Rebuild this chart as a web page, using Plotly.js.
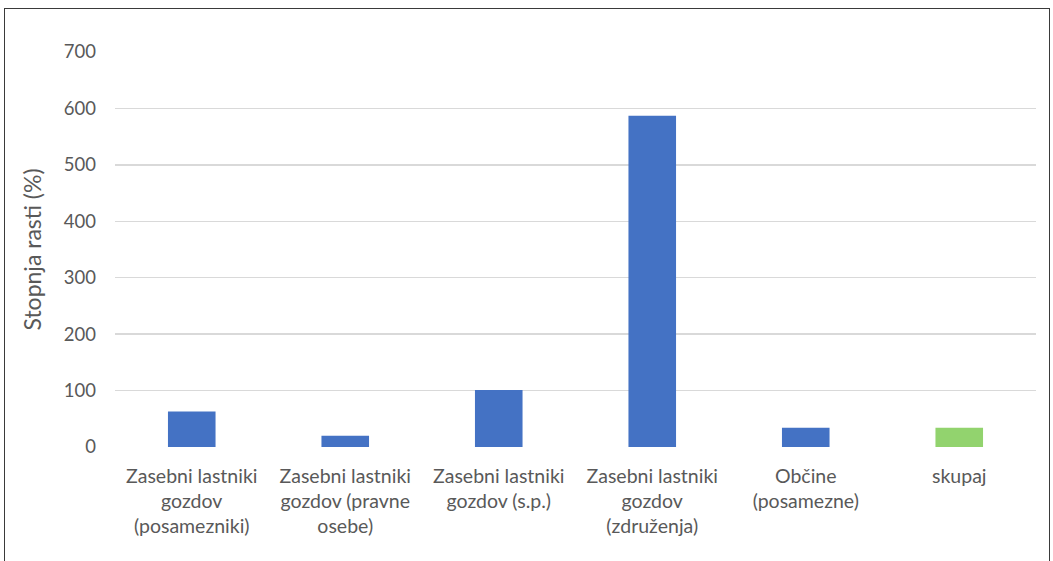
<!DOCTYPE html>
<html>
<head>
<meta charset="utf-8">
<script src="https://cdn.plot.ly/plotly-3.0.1.min.js"></script>
<style>
html,body{margin:0;padding:0;background:#fff;}
#wrap{position:relative;width:1053px;height:561px;}
#chart{width:1053px;height:561px;}
#frame{position:absolute;left:4px;top:8px;width:1044px;height:560px;border:1.5px solid #3a3a3a;pointer-events:none;}
</style>
</head>
<body>
<div id="wrap">
<div id="chart"></div>
<div id="frame"></div>
</div>
<script>
const categories = [
  "Zasebni lastniki<br>gozdov<br>(posamezniki)",
  "Zasebni lastniki<br>gozdov (pravne<br>osebe)",
  "Zasebni lastniki<br>gozdov (s.p.)",
  "Zasebni lastniki<br>gozdov<br>(združenja)",
  "Občine<br>(posamezne)",
  "skupaj"
];
const values = [63, 20, 101, 587, 34, 34];
const barColors = ["#4472c4", "#4472c4", "#4472c4", "#4472c4", "#4472c4", "#92d36e"];
const yTicks = [0, 100, 200, 300, 400, 500, 600, 700];

const trace = {
  type: "bar",
  x: categories,
  y: values,
  marker: {color: barColors},
  hoverinfo: "x+y"
};

const layout = {
  width: 1053,
  height: 561,
  margin: {l: 115, r: 17, t: 52, b: 114},
  paper_bgcolor: "#ffffff",
  plot_bgcolor: "#ffffff",
  bargap: 0.69,
  showlegend: false,
  font: {family: "Lato, 'Open Sans', sans-serif", size: 19, color: "#595959"},
  xaxis: {
    type: "category",
    showgrid: false,
    showline: false,
    zeroline: false,
    ticks: "",
    ticklabelstandoff: 15,
    tickfont: {size: 19.5, color: "#595959"},
    tickangle: 0
  },
  yaxis: {
    range: [0, 700],
    tickvals: yTicks,
    ticktext: yTicks.map(String),
    showgrid: true,
    gridcolor: "#d9d9d9",
    gridwidth: 1.5,
    zeroline: false,
    showline: false,
    ticks: "",
    ticklabelstandoff: 18,
    tickfont: {size: 18.5, color: "#595959"},
    title: {text: "Stopnja rasti (%)", font: {size: 23, color: "#595959"}, standoff: 15}
  }
};

Plotly.newPlot("chart", [trace], layout, {displayModeBar: false, staticPlot: true});
</script>
</body>
</html>
